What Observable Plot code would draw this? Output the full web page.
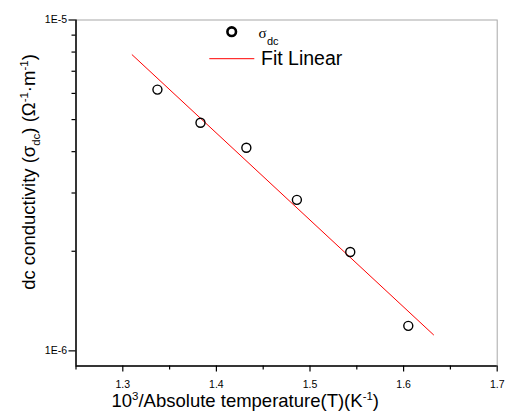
<!DOCTYPE html>
<html>
<head>
<meta charset="utf-8">
<script src="https://cdn.jsdelivr.net/npm/d3@7"></script>
<script src="https://cdn.jsdelivr.net/npm/@observablehq/plot@0.6"></script>
<style>
  html, body { margin: 0; padding: 0; background: #fff; }
  #chart { position: relative; width: 505px; height: 417px; }
  svg { font-family: "Liberation Sans", Arial, sans-serif; }
</style>
</head>
<body>
<div id="chart"></div>
<script>
// ---- data ----
const xDomain = [1.25, 1.7];
const yDomain = [9.0e-7, 1e-5];
const invT = [1.337, 1.383, 1.432, 1.486, 1.543, 1.605];
const sigmaDC = [6.16e-6, 4.89e-6, 4.11e-6, 2.86e-6, 1.99e-6, 1.19e-6];
const fitX = [1.310, 1.632];
const fitY = [7.85e-6, 1.118e-6];
const xMajor = [1.3, 1.4, 1.5, 1.6, 1.7];
const xMajorLabels = ["1.3", "1.4", "1.5", "1.6", "1.7"];
const xMinor = [1.25, 1.35, 1.45, 1.55, 1.65];
const yMajor = [1e-6, 1e-5];
const yMajorLabels = ["1E-6", "1E-5"];
const yMinor = [2e-6, 3e-6, 4e-6, 5e-6, 6e-6, 7e-6, 8e-6, 9e-6];
const xLabelParts = [["10", ""], ["3", "sup"], ["/Absolute temperature(T)(K", ""], ["-1", "sup"], [")", ""]];
const yLabelParts = [["dc conductivity (σ", ""], ["dc", "sub"], [") (Ω", ""], ["-1", "sup"], ["·m", ""], ["-1", "sup"], [")", ""]];
const legendSeries = ["σ", "dc"];
const legendFit = "Fit Linear";

const points = invT.map((x, i) => ({x, y: sigmaDC[i]}));
const fit = fitX.map((x, i) => ({x, y: fitY[i]}));
const xLabel = xLabelParts.map(p => p[0]).join("");
const yLabel = yLabelParts.map(p => p[0]).join("");

const chart = Plot.plot({
  width: 505,
  height: 417,
  marginLeft: 75.5,
  marginRight: 8.3,
  marginTop: 19.5,
  marginBottom: 51.5,
  style: {fontFamily: '"Liberation Sans", Arial, sans-serif', background: "#fff"},
  x: {domain: xDomain, axis: null},
  y: {type: "log", domain: yDomain, axis: null},
  marks: [
    Plot.frame({stroke: "#a8a8a8", strokeWidth: 1}),
    Plot.axisX(xMajor, {tickSize: 6, tickPadding: 9, fontSize: 10.5, tickFormat: d => xMajorLabels[xMajor.indexOf(d)], label: null, stroke: "black", strokeWidth: 1.2}),
    Plot.axisX(xMinor, {tickSize: 4, tickFormat: () => "", label: null, stroke: "black", strokeWidth: 1.2}),
    Plot.axisY(yMajor, {tickSize: 7, tickPadding: 2, fontSize: 10.5, tickFormat: d => yMajorLabels[yMajor.indexOf(d)], label: null, stroke: "black", strokeWidth: 1.2}),
    Plot.axisY(yMinor, {tickSize: 4, tickFormat: () => "", label: null, stroke: "black", strokeWidth: 1.2}),
    Plot.ruleX([xDomain[0]], {stroke: "black", strokeWidth: 1.5}),
    Plot.ruleY([yDomain[0]], {stroke: "black", strokeWidth: 1.5}),
    Plot.line(fit, {x: "x", y: "y", stroke: "#ff0000", strokeWidth: 1}),
    Plot.dot(points, {x: "x", y: "y", r: 4.5, stroke: "black", strokeWidth: 1.4, fill: "none"}),
    Plot.text([xLabel], {frameAnchor: "bottom-left", textAnchor: "start", lineAnchor: "middle", dx: 35.5, dy: 35.5, fontSize: 18.5, fill: "black"}),
    Plot.text([yLabel], {frameAnchor: "left", textAnchor: "middle", lineAnchor: "middle", rotate: -90, dx: -46.5, dy: -21, fontSize: 18.5, fill: "black"})
  ]
});
document.getElementById("chart").appendChild(chart);

const svgNS = "http://www.w3.org/2000/svg";
function setRich(el, parts, fs) {
  el.textContent = "";
  let shift = 0;
  for (const [t, kind] of parts) {
    const ts = document.createElementNS(svgNS, "tspan");
    const target = kind === "sup" ? -0.4 * fs : kind === "sub" ? 0.22 * fs : 0;
    if (target !== shift) ts.setAttribute("dy", target - shift);
    shift = target;
    if (kind) ts.setAttribute("font-size", (fs * 0.62).toFixed(2));
    ts.textContent = t;
    el.appendChild(ts);
  }
}
const svg = chart.tagName.toLowerCase() === "svg" ? chart : chart.querySelector("svg");
svg.querySelectorAll("text").forEach(el => {
  if (el.textContent === xLabel) setRich(el, xLabelParts, 18.5);
  else if (el.textContent === yLabel) setRich(el, yLabelParts, 18.5);
});

// ---- legend ----
const lg = d3.select(svg).append("g")
  .attr("font-family", '"Liberation Sans", Arial, sans-serif')
  .attr("text-anchor", "start").attr("fill", "black");
lg.append("circle").attr("cx", 231.7).attr("cy", 31.7).attr("r", 4.3)
  .attr("fill", "none").attr("stroke", "black").attr("stroke-width", 2.6);
lg.append("text").attr("x", 258.5).attr("y", 38).attr("font-size", 15)
  .attr("font-family", '"Liberation Serif", "Times New Roman", serif').text(legendSeries[0]);
lg.append("text").attr("x", 267).attr("y", 45).attr("font-size", 11).text(legendSeries[1]);
lg.append("line").attr("x1", 209.3).attr("x2", 254.3).attr("y1", 58.7).attr("y2", 58.7)
  .attr("stroke", "#ff0000").attr("stroke-width", 1);
lg.append("text").attr("x", 261).attr("y", 64.7).attr("font-size", 19.5).text(legendFit);
</script>
</body>
</html>
